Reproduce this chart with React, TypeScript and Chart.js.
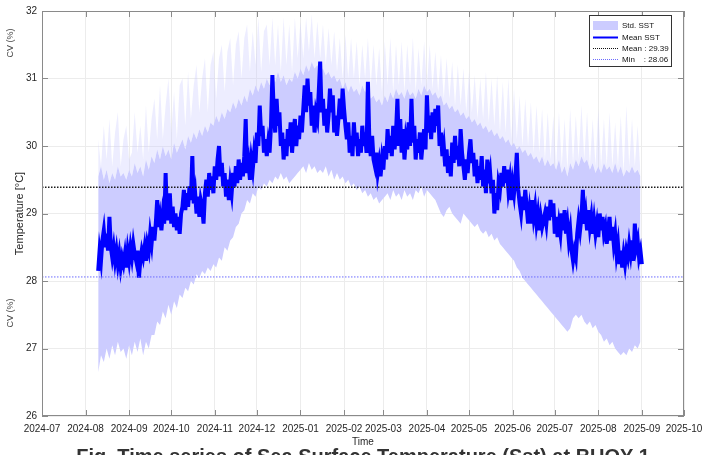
import React, { useEffect, useRef } from "react";
import { Chart, registerables } from "chart.js";

Chart.register(...registerables);

// ---------- data ----------
const axisStartLabel = "2024-07";
const tickLabels = [
  "2024-07", "2024-08", "2024-09", "2024-10", "2024-11", "2024-12",
  "2025-01", "2025-02", "2025-03", "2025-04", "2025-05", "2025-06",
  "2025-07", "2025-08", "2025-09", "2025-10",
];
const yTickValues = [26, 27, 28, 29, 30, 31, 32];

// daily mean SST starting 2024-08-10
const meanStartDate = "2024-08-10";
const meanSST = [
  28.15, 28.45, 28.3, 28.6, 28.75, 28.5, 28.7, 28.45,
  28.95, 28.5, 28.35, 28.5, 28.3, 28.45, 28.25, 28.4,
  28.2, 28.35, 28.25, 28.4, 28.2, 28.45, 28.3, 28.5,
  28.35, 28.55, 28.4, 28.3, 28.45, 28.05, 28.3, 28.45,
  28.35, 28.5, 28.3, 28.55, 28.45, 28.7, 28.55, 28.8,
  28.6, 28.85, 29.2, 28.8, 28.95, 28.75, 29.0, 28.85,
  29.6, 28.9, 29.05, 29.3, 28.85, 29.1, 28.8, 29.0,
  28.75, 28.95, 28.7, 29.0, 29.1, 29.35, 29.05, 29.3,
  29.1, 29.4, 29.2, 29.85, 29.15, 29.3, 29.0, 29.25,
  28.95, 29.2, 29.1, 28.85, 29.3, 29.5, 29.25, 29.6,
  29.35, 29.55, 29.3, 29.7, 29.5, 29.8, 30.0, 29.55,
  29.75, 29.4, 29.6, 29.25, 29.5, 29.2, 29.45, 29.3,
  29.6, 29.4, 29.7, 29.45, 29.8, 29.5, 29.75, 29.55,
  29.85, 30.4, 29.6, 29.75, 29.5, 29.8, 29.65, 29.9,
  29.75, 30.2, 30.0, 30.6, 30.15, 30.3, 29.9, 30.1,
  29.85, 30.05, 29.9, 30.3, 31.05, 30.5, 30.2, 30.7,
  30.3, 30.5, 30.0, 30.2, 29.8, 30.1, 29.85, 30.25,
  30.0, 30.35, 29.9, 30.2, 30.4, 30.0, 30.3, 30.1,
  30.45, 30.2, 30.55, 30.9, 30.5, 31.0, 30.6, 30.8,
  30.3, 30.6, 30.2, 30.5, 30.4, 30.8, 31.25, 30.5,
  30.7, 30.3, 30.55, 30.2, 30.45, 30.85, 30.5, 30.75,
  30.2, 30.45, 30.15, 30.4, 30.7, 30.4, 30.85, 30.55,
  30.3, 30.1, 30.35, 29.9, 30.15, 29.85, 30.35, 30.0,
  30.2, 29.85, 30.1, 29.9, 30.3, 30.0, 30.2, 29.9,
  30.95, 30.1, 29.85, 30.15, 29.8, 29.7, 29.9, 29.6,
  29.75, 29.55, 29.8, 29.65, 30.0, 29.8, 30.25, 29.9,
  30.15, 29.85, 30.3, 29.95, 30.2, 30.7, 30.0, 30.4,
  29.9, 30.25, 29.8, 30.1, 29.95, 30.35, 30.0, 30.7,
  30.05, 30.3, 29.8, 30.1, 29.9, 30.2, 29.8, 30.05,
  30.25, 29.95, 30.75, 30.2, 30.45, 30.1, 30.5, 30.2,
  30.55, 30.3, 30.6, 30.0, 30.2, 29.85, 30.0, 29.7,
  29.95, 29.6, 29.85, 29.55, 30.05, 29.75, 30.15, 29.8,
  30.0, 29.7, 30.25, 29.9, 29.7, 29.5, 29.8, 29.6,
  29.9, 30.1, 29.75, 29.9, 29.55, 29.8, 29.45, 29.7,
  29.5, 29.85, 29.4, 29.65, 29.3, 29.8, 29.45, 29.6,
  29.3, 29.5, 29.0, 29.3, 29.05, 29.45, 29.35, 29.6,
  29.4, 29.7, 29.45, 29.65, 29.35, 29.5, 29.2, 29.45,
  29.3, 29.55, 29.9, 29.35, 29.15, 29.0, 29.25, 29.05,
  29.35, 29.1, 28.85, 29.05, 28.85, 29.2, 28.95, 29.1,
  28.85, 29.0, 28.75, 28.95, 28.8, 28.9, 29.0, 28.85,
  29.1, 28.9, 29.2, 28.95, 29.15, 28.7, 28.95, 28.65,
  28.85, 28.7, 29.0, 28.75, 29.05, 28.7, 28.85, 28.6,
  28.75, 28.45, 28.3, 28.45, 28.35, 28.7, 28.9, 28.75,
  28.95, 29.35, 28.85, 29.0, 28.75, 29.05, 28.8, 28.95,
  28.7, 28.9, 28.7, 28.85, 28.65, 29.0, 28.75, 28.95,
  28.7, 28.8, 28.55, 28.75, 28.95, 28.6, 28.8, 28.55,
  28.7, 28.4, 28.55, 28.25, 28.45, 28.2, 28.4, 28.25,
  28.45, 28.35, 28.55, 28.4, 28.6, 28.3, 28.85, 28.5,
  28.6, 28.35, 28.45, 28.25,
];

// std envelope, every 2 days starting 2024-08-10
const bandStartDate = "2024-08-10";
const bandStepDays = 2;
const stdUpper = [
  29.55, 29.7, 29.5, 29.65, 29.45, 29.6, 29.5, 29.7, 29.55, 29.6,
  29.5, 29.65, 29.55, 29.75, 29.6, 29.7, 29.55, 29.8, 29.65, 29.85,
  29.75, 29.95, 29.8, 30.0, 29.85, 29.95, 29.8, 30.05, 29.9, 30.0,
  30.1, 29.95, 30.15, 30.05, 30.2, 30.1, 30.25, 30.15, 30.3, 30.2,
  30.35, 30.3, 30.45, 30.35, 30.5, 30.4, 30.55, 30.5, 30.65, 30.55,
  30.7, 30.6, 30.75, 30.65, 30.85, 30.75, 30.9, 30.8, 30.95, 30.85,
  31.0, 30.9, 31.05, 30.95, 31.1, 30.95, 31.05, 30.9, 31.0, 30.95,
  31.1, 31.0, 31.15, 31.05, 31.2, 31.1, 31.25, 31.15, 31.2, 31.1,
  31.15, 31.05, 31.1, 31.0, 31.05, 30.95, 31.0, 30.85, 30.95, 30.8,
  30.9, 30.8, 30.85, 30.75, 30.9, 30.8, 30.85, 30.7, 30.75, 30.65,
  30.7, 30.6, 30.75, 30.65, 30.8, 30.7, 30.85, 30.75, 30.8, 30.7,
  30.85, 30.75, 30.8, 30.7, 30.85, 30.75, 30.9, 30.8, 30.85, 30.75,
  30.8, 30.7, 30.75, 30.6, 30.65, 30.55, 30.6, 30.5, 30.55, 30.45,
  30.5, 30.4, 30.45, 30.35, 30.4, 30.3, 30.35, 30.25, 30.3, 30.2,
  30.25, 30.15, 30.2, 30.1, 30.15, 30.05, 30.1, 30.0, 30.05, 29.95,
  30.0, 29.9, 29.95, 29.85, 29.9, 29.8, 29.85, 29.75, 29.85, 29.7,
  29.8, 29.7, 29.75, 29.65, 29.8, 29.6, 29.7, 29.55, 29.75, 29.65,
  29.8, 29.7, 29.85, 29.75, 29.8, 29.65, 29.75, 29.6, 29.7, 29.6,
  29.75, 29.65, 29.7, 29.6, 29.75, 29.6, 29.7, 29.55, 29.65, 29.6,
  29.7, 29.6, 29.65, 29.55,
];
const stdUpperFaint = [
  30.1, 29.7, 30.3, 29.8, 30.4, 29.7, 30.2, 30.5, 29.7, 30.1,
  30.3, 29.8, 29.9, 30.5, 29.9, 30.3, 29.8, 30.6, 29.9, 30.4,
  30.7, 30.1, 30.9, 30.1, 30.6, 31.0, 30.2, 30.8, 30.1, 30.9,
  31.0, 30.3, 31.1, 30.4, 30.9, 31.2, 30.5, 31.0, 31.3, 30.5,
  31.2, 31.4, 30.7, 31.3, 31.5, 30.8, 31.4, 31.6, 30.9, 31.5,
  31.7, 31.0, 31.6, 31.8, 31.1, 31.7, 31.2, 31.9, 31.1, 31.7,
  31.8, 31.2, 31.9, 31.2, 31.8, 31.1, 31.9, 31.2, 31.8, 31.1,
  31.9, 31.3, 31.85, 31.3, 31.9, 31.4, 31.95, 31.3, 31.85, 31.3,
  31.8, 31.2, 31.75, 31.2, 31.7, 31.1, 31.6, 31.0, 31.65, 31.0,
  31.6, 31.0, 31.55, 30.9, 31.5, 31.0, 31.6, 30.9, 31.5, 30.9,
  31.45, 30.8, 31.55, 30.9, 31.6, 30.8, 31.5, 30.9, 31.55, 30.8,
  31.5, 30.9, 31.6, 30.8, 31.45, 30.9, 31.55, 30.9, 31.5, 30.85,
  31.4, 30.8, 31.35, 30.7, 31.3, 30.7, 31.25, 30.6, 31.2, 30.6,
  31.15, 30.5, 31.1, 30.5, 31.05, 30.4, 31.0, 30.4, 31.1, 30.35,
  31.0, 30.3, 31.05, 30.2, 30.95, 30.2, 31.0, 30.1, 30.85, 30.1,
  30.75, 30.0, 30.7, 30.0, 30.65, 29.9, 30.6, 29.9, 30.55, 29.8,
  30.5, 29.8, 30.45, 29.7, 30.5, 29.7, 30.4, 29.65, 30.55, 29.75,
  30.45, 29.8, 30.6, 29.8, 30.5, 29.7, 30.4, 29.7, 30.55, 29.7,
  30.4, 29.7, 30.5, 29.7, 30.35, 29.7, 30.45, 29.6, 30.6, 29.7,
  30.4, 29.7, 30.3, 29.6,
];
const stdLower = [
  26.65, 26.9, 26.8, 27.0, 26.85, 27.05, 26.9, 27.1, 26.95, 27.0,
  26.85, 27.05, 26.9, 27.1, 26.95, 27.15, 26.9, 27.1, 27.0, 27.2,
  27.2, 27.4, 27.35, 27.55, 27.45, 27.65, 27.5, 27.7, 27.6, 27.8,
  27.75, 27.9, 27.85, 28.0, 27.95, 28.1, 28.05, 28.15, 28.1, 28.2,
  28.15, 28.25, 28.2, 28.35, 28.3, 28.5, 28.45, 28.6, 28.65, 28.8,
  28.85, 29.0, 29.05, 29.2, 29.15, 29.3, 29.25, 29.4, 29.35, 29.45,
  29.4, 29.5, 29.45, 29.55, 29.5, 29.6, 29.5, 29.55, 29.45, 29.5,
  29.55, 29.6, 29.65, 29.7, 29.6, 29.75, 29.65, 29.7, 29.6, 29.65,
  29.6, 29.7, 29.55, 29.65, 29.5, 29.6, 29.5, 29.55, 29.45, 29.5,
  29.4, 29.45, 29.35, 29.4, 29.3, 29.35, 29.25, 29.3, 29.2, 29.25,
  29.15, 29.2, 29.25, 29.3, 29.2, 29.35, 29.25, 29.3, 29.2, 29.35,
  29.25, 29.3, 29.2, 29.35, 29.3, 29.4, 29.25, 29.35, 29.3, 29.25,
  29.2, 29.1, 29.0, 28.95, 29.05, 29.1, 29.0, 28.95, 28.9, 28.85,
  29.0, 28.95, 28.9, 28.85, 28.8, 28.85, 28.75, 28.7, 28.75, 28.65,
  28.7, 28.6, 28.65, 28.55, 28.5, 28.45, 28.4, 28.35, 28.3, 28.2,
  28.15, 28.05, 28.0, 27.95, 27.9, 27.85, 27.8, 27.75, 27.7, 27.65,
  27.6, 27.55, 27.5, 27.45, 27.4, 27.35, 27.3, 27.25, 27.3, 27.45,
  27.5, 27.45, 27.5, 27.4, 27.35, 27.4, 27.3, 27.35, 27.25, 27.2,
  27.1, 27.15, 27.05, 27.1, 27.0, 26.95, 26.9, 26.95, 26.9, 27.0,
  26.95, 27.05, 27.0, 27.1,
];

const overallMean = 29.39;
const overallMin = 28.06;
const legendLabels = ["Std. SST", "Mean SST", "Mean : 29.39", "Min    : 28.06"];

const yTitle = "Temperature [°C]";
const xTitle = "Time";
const caption = "Fig. Time series of Sea Surface Temperature (Sst) at BUOY 1";

// ---------- helpers ----------
const ORIGIN = Date.UTC(2024, 6, 1);
function dayOf(s: string): number {
  const p = s.split("-").map(Number);
  return (Date.UTC(p[0], p[1] - 1, p[2] || 1) - ORIGIN) / 864e5;
}
const tickDays = tickLabels.map(dayOf);
const xMin = dayOf(axisStartLabel);
const xMax = tickDays[tickDays.length - 1];

const FONT = "'Liberation Sans', Arial, sans-serif";
const BAND = "#ccccff";

const CHART_LEFT = 42;
const CHART_RIGHT = 684;
const CHART_TOP = 7;
const CHART_BOTTOM = 416;
const W = 718;
const H = 455;

const decorPlugin = {
  id: "decor",
  afterDraw(chart: any) {
    const ctx = chart.ctx as CanvasRenderingContext2D;
    const a = chart.chartArea;
    const xs = chart.scales.x;
    const ys = chart.scales.y;
    ctx.save();
    ctx.strokeStyle = "#8a8a8a";
    ctx.lineWidth = 1;
    ctx.strokeRect(a.left + 0.5, a.top + 0.5, a.right - a.left - 1, a.bottom - a.top - 1);
    ctx.beginPath();
    tickDays.forEach((d) => {
      const px = Math.round(xs.getPixelForValue(d)) + 0.5;
      ctx.moveTo(px, a.bottom);
      ctx.lineTo(px, a.bottom - 6);
      ctx.moveTo(px, a.top);
      ctx.lineTo(px, a.top + 6);
    });
    yTickValues.forEach((v) => {
      const py = Math.round(ys.getPixelForValue(v)) + 0.5;
      ctx.moveTo(a.left, py);
      ctx.lineTo(a.left + 6, py);
      ctx.moveTo(a.right, py);
      ctx.lineTo(a.right - 6, py);
    });
    ctx.stroke();

    ctx.fillStyle = "#262626";
    ctx.font = `11px ${FONT}`;
    ctx.textAlign = "center";
    ctx.textBaseline = "middle";
    ctx.save();
    ctx.translate(20, (a.top + a.bottom) / 2);
    ctx.rotate(-Math.PI / 2);
    ctx.fillText(yTitle, 0, 0);
    ctx.restore();
    ctx.font = `10px ${FONT}`;
    ctx.fillText(xTitle, (a.left + a.right) / 2, 442);

    // legend
    const lx = 589.5, ly = 15.5, lw = 82, lh = 51;
    ctx.fillStyle = "#ffffff";
    ctx.fillRect(lx, ly, lw, lh);
    ctx.strokeStyle = "#333333";
    ctx.lineWidth = 1;
    ctx.strokeRect(lx, ly, lw, lh);
    const rows = [26, 37.5, 48.5, 59.5];
    const sx0 = 593, sx1 = 618;
    ctx.fillStyle = BAND;
    ctx.fillRect(sx0, 21, sx1 - sx0, 9);
    ctx.strokeStyle = "#0000ff";
    ctx.lineWidth = 2;
    ctx.beginPath();
    ctx.moveTo(sx0, rows[1]);
    ctx.lineTo(sx1, rows[1]);
    ctx.stroke();
    ctx.lineWidth = 1;
    ctx.setLineDash([1, 1]);
    ctx.strokeStyle = "#111111";
    ctx.beginPath();
    ctx.moveTo(sx0, rows[2]);
    ctx.lineTo(sx1, rows[2]);
    ctx.stroke();
    ctx.strokeStyle = "#6b6bff";
    ctx.beginPath();
    ctx.moveTo(sx0, rows[3]);
    ctx.lineTo(sx1, rows[3]);
    ctx.stroke();
    ctx.setLineDash([]);
    ctx.fillStyle = "#111111";
    ctx.font = `8px ${FONT}`;
    ctx.textAlign = "left";
    ctx.textBaseline = "middle";
    legendLabels.forEach((t, i) => ctx.fillText(t, 622, rows[i]));
    ctx.restore();
  },
};

export default function App() {
  const ref = useRef<HTMLCanvasElement | null>(null);

  useEffect(() => {
    if (!ref.current) return;
    const meanStart = dayOf(meanStartDate);
    const bandStart = dayOf(bandStartDate);
    const meanPts = meanSST.map((v, i) => ({ x: meanStart + i, y: v }));
    const upPts = stdUpper.map((v, i) => ({ x: bandStart + i * bandStepDays, y: v }));
    const lowPts = stdLower.map((v, i) => ({ x: bandStart + i * bandStepDays, y: v }));
    const faintPts = stdUpperFaint.map((v, i) => ({ x: bandStart + i * bandStepDays, y: v }));

    const chart = new Chart(ref.current, {
      type: "line",
      data: {
        datasets: [
          {
            label: "low",
            data: lowPts,
            borderColor: "rgba(0,0,0,0)",
            borderWidth: 0,
            pointRadius: 0,
            fill: false,
            order: 6,
          },
          {
            label: "Std. SST",
            data: upPts,
            borderColor: "rgba(0,0,0,0)",
            borderWidth: 0,
            pointRadius: 0,
            backgroundColor: BAND,
            fill: 0,
            order: 5,
          },
          {
            label: "faint",
            data: faintPts,
            borderColor: "rgba(0,0,0,0)",
            borderWidth: 0,
            pointRadius: 0,
            backgroundColor: "rgba(204,204,255,0.35)",
            fill: 1,
            order: 4,
          },
          {
            label: "Mean SST",
            data: meanPts,
            borderColor: "#0000ff",
            borderWidth: 4,
            pointRadius: 0,
            fill: false,
            order: 3,
          },
          {
            label: "Mean",
            data: [
              { x: xMin, y: overallMean },
              { x: xMax, y: overallMean },
            ],
            borderColor: "#1a1a1a",
            borderWidth: 1.5,
            borderDash: [1.5, 1.5],
            pointRadius: 0,
            fill: false,
            order: 1,
          },
          {
            label: "Min",
            data: [
              { x: xMin, y: overallMin },
              { x: xMax, y: overallMin },
            ],
            borderColor: "#6b6bff",
            borderWidth: 1,
            borderDash: [1.5, 1.5],
            pointRadius: 0,
            fill: false,
            order: 2,
          },
        ],
      },
      options: {
        responsive: false,
        animation: false,
        events: [],
        layout: {
          padding: { left: 0, right: W - CHART_RIGHT, top: CHART_TOP, bottom: 0 },
        },
        elements: { line: { tension: 0 } },
        plugins: {
          legend: { display: false },
          tooltip: { enabled: false },
        },
        scales: {
          x: {
            type: "linear",
            min: xMin,
            max: xMax,
            afterBuildTicks: (scale: any) => {
              scale.ticks = tickDays.map((d) => ({ value: d }));
            },
            afterFit: (scale: any) => {
              scale.height = H - CHART_BOTTOM;
            },
            ticks: {
              autoSkip: false,
              maxRotation: 0,
              padding: 7,
              color: "#262626",
              font: { family: FONT, size: 10 },
              callback: (v: any) => {
                const i = tickDays.indexOf(Number(v));
                return i >= 0 ? tickLabels[i] : "";
              },
            },
            grid: { color: "#ececec", drawTicks: false },
            border: { display: false },
          },
          y: {
            type: "linear",
            min: yTickValues[0],
            max: yTickValues[yTickValues.length - 1],
            afterBuildTicks: (scale: any) => {
              scale.ticks = yTickValues.map((v) => ({ value: v }));
            },
            afterFit: (scale: any) => {
              scale.width = CHART_LEFT;
            },
            ticks: {
              padding: 5,
              color: "#262626",
              font: { family: FONT, size: 10 },
            },
            grid: { color: "#ececec", drawTicks: false },
            border: { display: false },
          },
        },
      },
      plugins: [decorPlugin],
    });
    return () => chart.destroy();
  }, []);

  return (
    <div
      style={{
        position: "fixed",
        left: 0,
        top: 0,
        width: W,
        height: H,
        overflow: "hidden",
        background: "#ffffff",
      }}
    >
      <canvas ref={ref} width={W} height={H} style={{ position: "absolute", left: 0, top: 0 }} />
      <div
        style={{
          position: "absolute",
          left: 10,
          top: 43,
          transform: "translate(-50%, -50%) rotate(-90deg)",
          font: `9px ${FONT}`,
          color: "#444",
          whiteSpace: "nowrap",
        }}
      >
        CV (%)
      </div>
      <div
        style={{
          position: "absolute",
          left: 10,
          top: 313,
          transform: "translate(-50%, -50%) rotate(-90deg)",
          font: `9px ${FONT}`,
          color: "#444",
          whiteSpace: "nowrap",
        }}
      >
        CV (%)
      </div>
      <div
        style={{
          position: "absolute",
          left: 0,
          width: 726,
          top: 446,
          textAlign: "center",
          font: `bold 20px ${FONT}`,
          lineHeight: "20px",
          color: "#333",
          whiteSpace: "nowrap",
        }}
      >
        {caption}
      </div>
    </div>
  );
}
